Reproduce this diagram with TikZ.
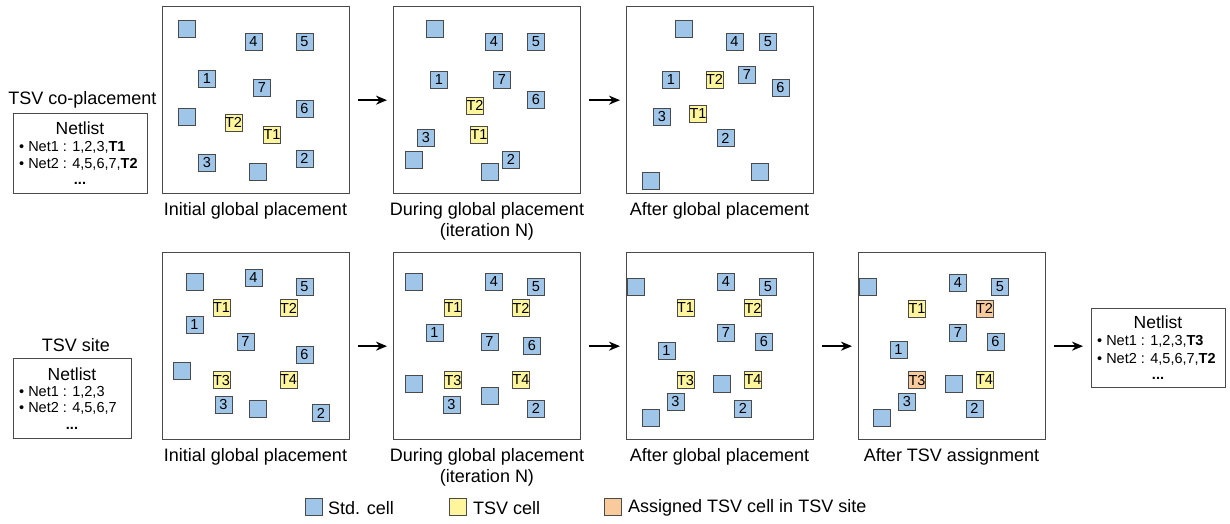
\documentclass[tikz,border=0pt]{standalone}
\usepackage{fontspec}
\setmainfont{Liberation Sans}
\usetikzlibrary{arrows.meta}
\definecolor{cellblue}{HTML}{9FC5E8}
\definecolor{tsvyellow}{HTML}{FFF59D}
\definecolor{tsvorange}{HTML}{F9CB9C}
\definecolor{edgegray}{HTML}{4A4A4A}
\newcommand\placecells[2]{%
  \foreach \s/\x/\y/\t [count=\i] in {#2} {\node[\s] (#1-\i) at (\x,\y) {\t};}}
\begin{document}
\begin{tikzpicture}[x=1pt,y=-1pt,
  panel/.style={draw=edgegray, line width=1.3pt, minimum width=187pt, minimum height=187pt, inner sep=0, anchor=north west},
  std/.style={draw=edgegray, line width=1pt, fill=cellblue, minimum size=17pt, inner sep=0, font=\fontsize{14.5}{14.5}\selectfont},
  tsv/.style={std, fill=tsvyellow},
  asg/.style={std, fill=tsvorange},
  captext/.style={font=\fontsize{18}{21}\selectfont, inner sep=0},
  flow/.style={line width=2.6pt, -{Stealth[length=11pt,width=9pt]}, shorten <=8pt, shorten >=6pt},
  netbox/.style={draw=edgegray, line width=1.3pt, inner sep=0, anchor=north west},
  nettitle/.style={font=\fontsize{17.5}{18}\selectfont, inner sep=0},
  netline/.style={font=\fontsize{14.5}{15}\selectfont, inner sep=0, anchor=west},
  netdots/.style={font=\fontsize{14.5}{15}\selectfont\bfseries, inner sep=0, anchor=base},
  legbox/.style={draw=edgegray, line width=1pt, minimum size=17pt, inner sep=0},
  legtext/.style={font=\fontsize{18}{21}\selectfont, inner sep=0, anchor=west},
]
\useasboundingbox (0,0) rectangle (1230,523);

% ---------- top row ----------
\node[captext] (tcp) at (82.5,100) {TSV co-placement};
\node[netbox, minimum width=134pt, minimum height=80pt] (nl1) at (13,113) {};
\node[nettitle] (nl1t) at (80,128) {Netlist};
\node[netline] (nl1a) at (19,147) {\textbullet\hspace{4pt}Net1 : 1,2,3,\textbf{T1}};
\node[netline] (nl1b) at (19,164) {\textbullet\hspace{4pt}Net2 : 4,5,6,7,\textbf{T2}};
\node[netdots] (nl1c) at (80,184) {...};

\node[panel] (a1) at (162,6) {};
\node[panel] (a2) at (393,6) {};
\node[panel] (a3) at (626,6) {};

\placecells{ca}{std/186.5/28.5/{}, std/253.5/42/4, std/304.5/42/5, std/207/79/1, std/262/88/7, std/186.5/117/{}, std/304.5/109/6, tsv/233.5/122.5/T2, tsv/272/134.5/T1, std/207/163/3, std/304.5/158.5/2, std/258/172/{}}
\placecells{cb}{std/435/28.5/{}, std/494/42/4, std/536/42/5, std/439/79.5/1, std/502/79.5/7, tsv/475/105.5/T2, std/536/100/6, tsv/479/134.5/T1, std/426/138/3, std/414/159.5/{}, std/511/159.5/2, std/489.5/172/{}}
\placecells{cc}{std/683.5/28.5/{}, std/734.5/42/4, std/768/42/5, std/671/79.5/1, tsv/714.5/79.5/T2, std/747/75/7, std/780.5/88/6, std/662/117/3, tsv/698/113.5/T1, std/725.5/138/2, std/759.5/172/{}, std/650.5/180.5/{}}

\node[captext] (la1) at (255.5,211) {Initial global placement};
\node[captext] (la2) at (487,211) {During global placement};
\node[captext] (la2b) at (487,232) {(iteration N)};
\node[captext] (la3) at (719.5,211) {After global placement};

\draw[flow] (a1.east) -- (a2.west);
\draw[flow] (a2.east) -- (a3.west);

% ---------- bottom row ----------
\node[captext] (tss) at (76,345) {TSV site};
\node[netbox, minimum width=118pt, minimum height=80pt] (nl2) at (13,358) {};
\node[nettitle] (nl2t) at (72,374) {Netlist};
\node[netline] (nl2a) at (19,392) {\textbullet\hspace{4pt}Net1 : 1,2,3};
\node[netline] (nl2b) at (19,408) {\textbullet\hspace{4pt}Net2 : 4,5,6,7};
\node[netdots] (nl2c) at (72,429) {...};

\node[panel] (b1) at (162,252) {};
\node[panel] (b2) at (393,252) {};
\node[panel] (b3) at (626,252) {};
\node[panel] (b4) at (858,252) {};

\placecells{da}{std/194.5/282/{}, std/253.5/278/4, std/304.5/286.5/5, tsv/221.5/308/T1, tsv/288.5/308/T2, std/194.5/324.5/1, std/245.5/341.5/7, std/304.5/354.5/6, std/182/371/{}, tsv/221.5/380/T3, tsv/288.5/380/T4, std/223.5/404.5/3, std/258/408.5/{}, std/321/413/2}
\placecells{db}{std/414/282/{}, std/494/282/4, std/536/287/5, tsv/453/308/T1, tsv/521/308/T2, std/434.5/333/1, std/489.5/341.5/7, std/532/345.5/6, std/414/383.5/{}, tsv/453/380/T3, tsv/521/380/T4, std/489.5/396/{}, std/451.5/404.5/3, std/536/408.5/2}
\placecells{dc}{std/636/287/{}, std/726/282/4, std/768/287/5, tsv/685.5/308/T1, tsv/753/308/T2, std/726/333/7, std/764/341.5/6, std/666.5/350.5/1, tsv/685.5/380/T3, std/722/383.5/{}, tsv/753/380/T4, std/675.5/401.5/3, std/743/408.5/2, std/650.5/417.5/{}}
\placecells{dd}{std/868/287/{}, std/958/283/4, std/1000/287/5, tsv/917/308.5/T1, asg/984.5/308.5/T2, std/958/333/7, std/995.5/341.5/6, std/898.5/349.5/1, asg/917/380/T3, std/953.5/383.5/{}, tsv/984.5/380/T4, std/907/401.5/3, std/974.5/408.5/2, std/882/417.5/{}}

\node[captext] (lb1) at (255.5,457) {Initial global placement};
\node[captext] (lb2) at (487,457) {During global placement};
\node[captext] (lb2b) at (487,478) {(iteration N)};
\node[captext] (lb3) at (719.5,457) {After global placement};
\node[captext] (lb4) at (951.5,457) {After TSV assignment};

\node[netbox, minimum width=134pt, minimum height=79pt] (nl3) at (1091,308) {};
\node[nettitle] (nl3t) at (1158,322) {Netlist};
\node[netline] (nl3a) at (1097,341) {\textbullet\hspace{4pt}Net1 : 1,2,3,\textbf{T3}};
\node[netline] (nl3b) at (1097,359) {\textbullet\hspace{4pt}Net2 : 4,5,6,7,\textbf{T2}};
\node[netdots] (nl3c) at (1158,379) {...};

\draw[flow] (b1.east) -- (b2.west);
\draw[flow] (b2.east) -- (b3.west);
\draw[flow] (b3.east) -- (b4.west);
\draw[flow, shorten >=8pt] (b4.east) -- (b4.east -| nl3.west);

% ---------- legend ----------
\node[legbox, fill=cellblue] (lg1) at (314,507) {};
\node[legtext] (lg1t) at (328,508) {Std. cell};
\node[legbox, fill=tsvyellow] (lg2) at (457.5,507) {};
\node[legtext] (lg2t) at (473,508) {TSV cell};
\node[legbox, fill=tsvorange] (lg3) at (613,507) {};
\node[legtext] (lg3t) at (628,508) {Assigned TSV cell in TSV site};
\end{tikzpicture}
\end{document}
